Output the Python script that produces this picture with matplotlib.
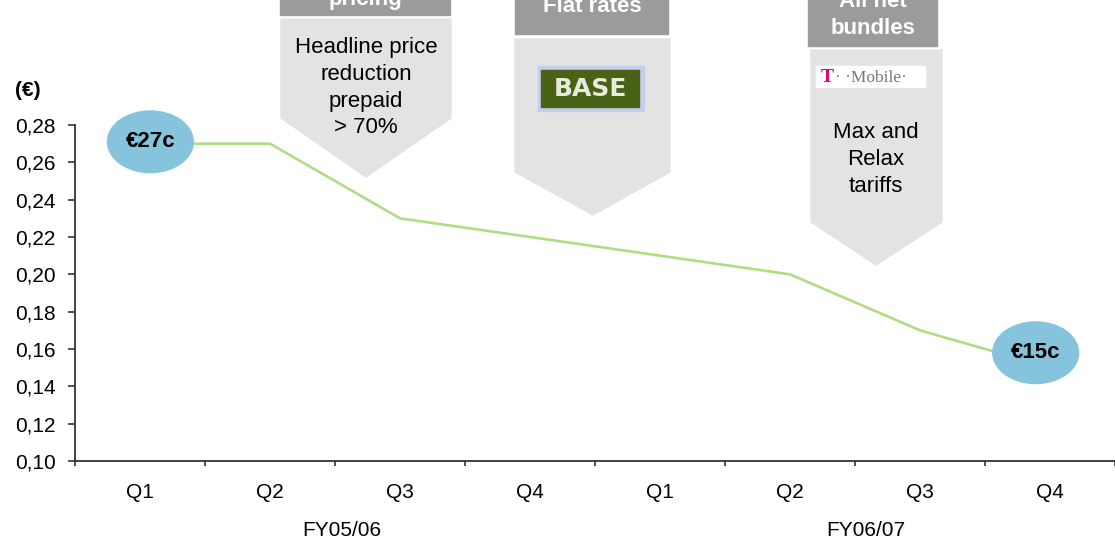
import numpy as np
import matplotlib.pyplot as plt
from matplotlib.patches import Ellipse, Polygon, Rectangle

plt.rcParams['font.family'] = ['Liberation Sans', 'DejaVu Sans']

quarters = ['Q1', 'Q2', 'Q3', 'Q4', 'Q1', 'Q2', 'Q3', 'Q4']
years = ['FY05/06', 'FY06/07']
year_pos = [1.55, 5.58]
price = [0.27, 0.27, 0.23, 0.22, 0.21, 0.20, 0.17, 0.15]
yticks = [0.10, 0.12, 0.14, 0.16, 0.18, 0.20, 0.22, 0.24, 0.26, 0.28]

W, H = 1115, 540
fig = plt.figure(figsize=(W / 100, H / 100), dpi=100)
ax = fig.add_axes([75 / W, 1 - 461 / H, 1 - 75 / W, (461 - 125) / H])
ax.patch.set_alpha(0)

x = np.arange(len(quarters))
ax.plot(x, price, color='#b2dc84', lw=1.9, zorder=2)

# bubbles on first and last point
for xi, yi, dx, dy in [(x[0], price[0], 0.08, 0.001), (x[-1], price[-1], -0.11, 0.008)]:
    ax.add_patch(Ellipse((xi + dx, yi + dy), 0.66, 0.033, color='#86c3dc', zorder=3,
                         clip_on=False))
    ax.text(xi + dx, yi + dy, '€%dc' % round(yi * 100), ha='center', va='center',
            fontsize=16, fontweight='bold', zorder=4)

ax.set_xlim(-0.5, (W - 75) / 131.5 - 0.5)
ax.set_ylim(0.10, 0.28)
ax.set_yticks(yticks)
ax.set_yticklabels([('%.2f' % v).replace('.', ',') for v in yticks], fontsize=15)
ax.set_xticks(x)
ax.set_xticklabels(quarters, fontsize=15)
ax.set_xticks(np.arange(len(quarters) + 1) - 0.5, minor=True)
ax.tick_params(axis='x', which='major', length=0, pad=16)
ax.tick_params(axis='x', which='minor', length=3.6, width=1.2, color='#333333')
ax.tick_params(axis='y', length=5, width=1.2, color='#333333', pad=9)
for s in ['top', 'right']:
    ax.spines[s].set_visible(False)
for s in ['left', 'bottom']:
    ax.spines[s].set_linewidth(1.3)
    ax.spines[s].set_color('#333333')

for lab, xp in zip(years, year_pos):
    ax.annotate(lab, xy=(xp, 0.10), xycoords='data', xytext=(0, -69),
                textcoords='offset pixels', ha='center', va='center', fontsize=15)

ax.annotate('(€)', xy=(-0.5, 0.28), xycoords='data', xytext=(-47, 34),
            textcoords='offset pixels', ha='center', va='center', fontsize=15,
            fontweight='bold')


def P(px, py):
    return (px / W, 1 - py / H)


light = '#e3e3e3'
dark = '#9b9b9b'

# callout 1
fig.patches.append(Rectangle(P(280, 15), 170 / W, 15 / H, transform=fig.transFigure,
                             color=dark, zorder=1))
fig.patches.append(Polygon([P(281, 19), P(451, 19), P(451, 118), P(366, 177), P(281, 118)],
                           closed=True, transform=fig.transFigure, color=light, zorder=1))
fig.text(*P(365, 5), 'pricing', ha='center', va='baseline', color='white',
         fontsize=16, fontweight='bold')
for i, line in enumerate(['Headline price', 'reduction', 'prepaid', '> 70%']):
    fig.text(*P(366, 48 + 26.5 * i), line, ha='center', va='center', fontsize=16)

# callout 2
fig.patches.append(Rectangle(P(515, 34), 153 / W, 34 / H, transform=fig.transFigure,
                             color=dark, zorder=1))
fig.patches.append(Polygon([P(515, 39), P(670, 39), P(670, 172), P(593, 215), P(515, 172)],
                           closed=True, transform=fig.transFigure, color=light, zorder=1))
fig.text(*P(592, 12), 'Flat rates', ha='center', va='baseline', color='white',
         fontsize=16, fontweight='bold')
fig.patches.append(Rectangle(P(538, 111), 106 / W, 45 / H, transform=fig.transFigure,
                             color='#c3cdec', zorder=2))
fig.patches.append(Rectangle(P(541, 107), 98 / W, 37 / H, transform=fig.transFigure,
                             color='#4a6215', zorder=2))
fig.text(*P(590, 89), 'BASE', ha='center', va='center', color='#e6ecde',
         fontsize=18, fontweight='bold', family='DejaVu Sans', zorder=3)

# callout 3
fig.patches.append(Rectangle(P(808, 46), 129 / W, 46 / H, transform=fig.transFigure,
                             color=dark, zorder=1))
fig.patches.append(Polygon([P(811, 50), P(942, 50), P(942, 222), P(876, 265), P(811, 222)],
                           closed=True, transform=fig.transFigure, color=light, zorder=1))
fig.text(*P(873, 7), 'All net', ha='center', va='baseline', color='white',
         fontsize=16, fontweight='bold')
fig.text(*P(873, 34), 'bundles', ha='center', va='baseline', color='white',
         fontsize=16, fontweight='bold')
fig.patches.append(Rectangle(P(816, 87), 109 / W, 21 / H, transform=fig.transFigure,
                             color='white', zorder=2))
fig.text(*P(827, 77), 'T', ha='center', va='center', color='#e2007a',
         fontsize=14, fontweight='bold', family='Liberation Serif', zorder=3)
fig.text(*P(835, 78), '· ·Mobile·', ha='left', va='center', color='#777777',
         fontsize=12.5, family='Liberation Serif', zorder=3)
for i, line in enumerate(['Max and', 'Relax', 'tariffs']):
    fig.text(*P(876, 132 + 27 * i), line, ha='center', va='center', fontsize=16)

fig.savefig('out.png', dpi=100)
